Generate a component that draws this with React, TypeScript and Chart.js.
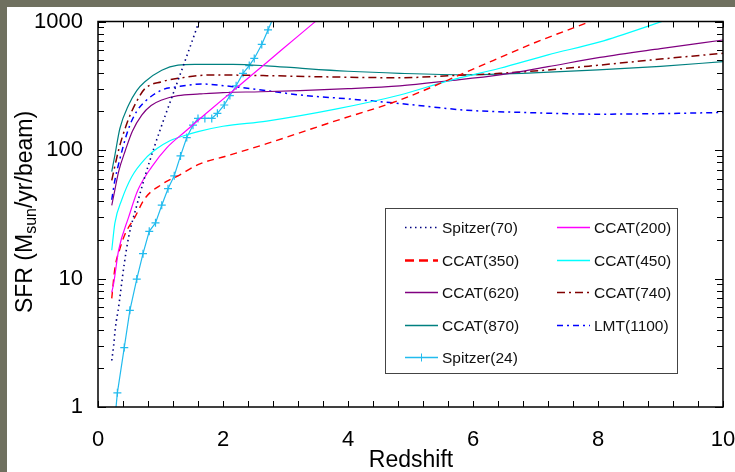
import { useEffect, useRef } from 'react';
import { Chart, registerables } from 'chart.js';

Chart.register(...registerables);

const FONT = '"Liberation Sans", Arial, Helvetica, sans-serif';

const seriesLabels = [
  'Spitzer(70)', 'CCAT(200)', 'CCAT(350)', 'CCAT(450)', 'CCAT(620)',
  'CCAT(740)', 'CCAT(870)', 'LMT(1100)', 'Spitzer(24)',
];

const xTickLabels = ['0', '2', '4', '6', '8', '10'];
const yTickLabels = ['1', '10', '100', '1000'];

const spitzer70Z = [0.22, 0.25, 0.28, 0.33, 0.37, 0.42, 0.49, 0.62, 0.75, 0.91, 1.1, 1.3, 1.5, 1.66];
const spitzer70SFR = [2.3, 3.0, 4.2, 6.0, 8.5, 13, 21, 37, 62, 109, 200, 370, 690, 1150];

const ccat200Z = [0.22, 0.25, 0.33, 0.49, 0.64, 0.86, 1.1, 1.4, 1.7, 2.2, 2.7, 3.2, 3.6];
const ccat200SFR = [7.8, 9.1, 16.6, 30, 49, 74, 104, 140, 187, 300, 480, 770, 1120];

const ccat350Z = [0.22, 0.27, 0.35, 0.43, 0.59, 0.75, 1.02, 1.28, 1.63, 2.03, 2.7, 3.76, 4.83, 5.9, 6.96, 7.9];
const ccat350SFR = [7.0, 12, 17, 22, 30, 42, 54, 63, 78, 89, 112, 166, 245, 405, 675, 1010];

const ccat450Z = [0.22, 0.27, 0.38, 0.54, 0.75, 0.95, 1.15, 1.35, 1.6, 2.0, 2.7, 3.8, 4.83, 5.6, 6.43, 7.2, 8.03, 9.05];
const ccat450SFR = [16.6, 27, 41, 62, 85, 103, 118, 128, 139, 153, 168, 208, 268, 345, 433, 550, 694, 1010];

const ccat620Z = [0.22, 0.27, 0.33, 0.44, 0.55, 0.7, 0.85, 1.02, 1.28, 1.63, 2.0, 2.6, 3.23, 4.0, 4.83, 5.6, 6.43, 7.2, 8.03, 9.0, 10];
const ccat620SFR = [37, 49, 68, 100, 140, 187, 222, 245, 265, 273, 280, 284, 290, 300, 316, 345, 384, 445, 525, 615, 718];

const ccat740Z = [0.22, 0.27, 0.33, 0.38, 0.49, 0.62, 0.75, 1.02, 1.28, 1.82, 2.7, 3.5, 4.83, 5.6, 6.43, 7.2, 8.03, 9.0, 10];
const ccat740SFR = [58, 75, 100, 122, 175, 240, 300, 340, 361, 384, 379, 372, 365, 378, 395, 420, 458, 510, 566];

const ccat870Z = [0.22, 0.27, 0.35, 0.49, 0.62, 0.75, 1.02, 1.28, 1.55, 2.16, 2.7, 3.23, 4.0, 4.83, 5.9, 6.96, 8.0, 9.0, 10];
const ccat870SFR = [68, 91, 147, 224, 290, 340, 418, 458, 464, 464, 452, 433, 410, 395, 385, 398, 420, 448, 487];

const lmt1100Z = [0.22, 0.27, 0.33, 0.49, 0.62, 0.75, 1.02, 1.28, 1.66, 2.16, 2.7, 3.23, 4.0, 4.83, 5.9, 6.96, 8.03, 9.0, 10];
const lmt1100SFR = [41, 58, 78, 147, 200, 238, 293, 311, 326, 311, 290, 268, 250, 230, 204, 195, 190, 192, 196];

const spitzer24Z = [0.28, 0.31, 0.42, 0.51, 0.62, 0.72, 0.82, 0.92, 1.02, 1.12, 1.22, 1.32, 1.42, 1.52, 1.6, 1.71, 1.82, 1.91, 2.02, 2.11, 2.21, 2.32, 2.42, 2.5, 2.62, 2.72, 2.85];
const spitzer24SFR = [0.9, 1.29, 2.9, 5.65, 9.9, 15.6, 23.3, 27.1, 37.2, 50, 63, 90, 125, 156, 176, 176, 176, 193, 224, 265, 316, 395, 454, 516, 663, 860, 1200];

const pts = (zs: number[], vs: number[]) => zs.map((z, i) => ({ x: z, y: vs[i] }));

const bgPlugin = {
  id: 'bg',
  beforeDraw(chart: any) {
    const { ctx, width, height } = chart;
    ctx.save();
    ctx.fillStyle = '#6f705f';
    ctx.fillRect(0, 0, width, height);
    ctx.fillStyle = '#ffffff';
    ctx.fillRect(7, 7, width - 7, height - 7);
    ctx.restore();
  },
};

const framePlugin = {
  id: 'frame',
  afterDatasetsDraw(chart: any) {
    const { ctx, chartArea: a, scales } = chart;
    const x = scales.x;
    const y = scales.y;
    ctx.save();
    ctx.strokeStyle = '#000';
    ctx.lineWidth = 1;
    ctx.beginPath();
    for (let k = 0; k <= 25; k++) {
      const px = Math.round(x.getPixelForValue(k * 0.4)) + 0.5;
      ctx.moveTo(px, a.bottom);
      ctx.lineTo(px, a.bottom - 6);
      ctx.moveTo(px, a.top);
      ctx.lineTo(px, a.top + 6);
    }
    for (let d = 1; d <= 1000; d *= 10) {
      for (let m = 1; m <= 9; m++) {
        const v = d * m;
        if (v > 1000) break;
        const py = Math.round(y.getPixelForValue(v)) + 0.5;
        const len = m === 1 ? 8 : 6;
        ctx.moveTo(a.left, py);
        ctx.lineTo(a.left + len, py);
        ctx.moveTo(a.right, py);
        ctx.lineTo(a.right - len, py);
      }
    }
    ctx.stroke();
    ctx.lineWidth = 1.5;
    ctx.strokeRect(a.left, a.top, a.right - a.left, a.bottom - a.top);
    ctx.restore();
  },
};

const legendPlugin = {
  id: 'boxLegend',
  afterDraw(chart: any) {
    const { ctx } = chart;
    const bx = 385, by = 208, bw = 292, bh = 165;
    ctx.save();
    ctx.fillStyle = '#fff';
    ctx.fillRect(bx, by, bw, bh);
    ctx.strokeStyle = '#444';
    ctx.lineWidth = 1;
    ctx.strokeRect(bx + 0.5, by + 0.5, bw, bh);
    chart.data.datasets.forEach((ds: any, i: number) => {
      const col = i % 2;
      const row = Math.floor(i / 2);
      const lx = bx + 20 + col * 152;
      const ly = Math.round(by + 19 + row * 32.5) + 0.5;
      ctx.strokeStyle = ds.borderColor;
      ctx.lineWidth = ds.legendWidth ?? 1.5;
      ctx.setLineDash(ds.legendDash ?? ds.borderDash ?? []);
      ctx.beginPath();
      ctx.moveTo(lx, ly);
      ctx.lineTo(lx + 33, ly);
      ctx.stroke();
      ctx.setLineDash([]);
      if (ds.pointRadius > 0) {
        ctx.lineWidth = 1;
        ctx.beginPath();
        ctx.moveTo(lx + 16.5, ly - 4);
        ctx.lineTo(lx + 16.5, ly + 4);
        ctx.stroke();
      }
      ctx.fillStyle = '#111';
      ctx.font = `15.5px ${FONT}`;
      ctx.textBaseline = 'middle';
      ctx.textAlign = 'left';
      ctx.fillText(ds.label, lx + 37, ly + 1);
    });
    ctx.restore();
  },
};

const titlesPlugin = {
  id: 'titles',
  afterDraw(chart: any) {
    const { ctx } = chart;
    ctx.save();
    ctx.fillStyle = '#000';
    ctx.font = `23px ${FONT}`;
    ctx.textAlign = 'center';
    ctx.textBaseline = 'middle';
    ctx.fillText('Redshift', 411, 461);

    ctx.translate(32, 212);
    ctx.rotate(-Math.PI / 2);
    ctx.textAlign = 'left';
    ctx.textBaseline = 'alphabetic';
    const p1 = 'SFR (M';
    const p2 = 'sun';
    const p3 = '/yr/beam)';
    ctx.font = `23px ${FONT}`;
    const w1 = ctx.measureText(p1).width;
    const w3 = ctx.measureText(p3).width;
    ctx.font = `16px ${FONT}`;
    const w2 = ctx.measureText(p2).width;
    const sx = -(w1 + w2 + w3) / 2;
    ctx.font = `23px ${FONT}`;
    ctx.fillText(p1, sx, 0);
    ctx.font = `16px ${FONT}`;
    ctx.fillText(p2, sx + w1, 4);
    ctx.font = `23px ${FONT}`;
    ctx.fillText(p3, sx + w1 + w2, 0);
    ctx.restore();
  },
};

export default function App() {
  const ref = useRef<HTMLCanvasElement | null>(null);

  useEffect(() => {
    if (!ref.current) return;
    const smooth = { cubicInterpolationMode: 'monotone', pointRadius: 0, fill: false };
    const datasets: any[] = [
      { label: seriesLabels[0], data: pts(spitzer70Z, spitzer70SFR), borderColor: '#000080', borderWidth: 1.6, borderDash: [1.5, 3.5], ...smooth },
      { label: seriesLabels[1], data: pts(ccat200Z, ccat200SFR), borderColor: '#ff00ff', borderWidth: 1.2, ...smooth },
      { label: seriesLabels[2], data: pts(ccat350Z, ccat350SFR), borderColor: '#ff0000', borderWidth: 1.4, borderDash: [7, 5], legendWidth: 2.6, legendDash: [9, 5], ...smooth },
      { label: seriesLabels[3], data: pts(ccat450Z, ccat450SFR), borderColor: '#00ffff', borderWidth: 1.2, ...smooth },
      { label: seriesLabels[4], data: pts(ccat620Z, ccat620SFR), borderColor: '#800080', borderWidth: 1.2, ...smooth },
      { label: seriesLabels[5], data: pts(ccat740Z, ccat740SFR), borderColor: '#800000', borderWidth: 1.5, borderDash: [8, 4, 2, 4], ...smooth },
      { label: seriesLabels[6], data: pts(ccat870Z, ccat870SFR), borderColor: '#008080', borderWidth: 1.2, ...smooth },
      { label: seriesLabels[7], data: pts(lmt1100Z, lmt1100SFR), borderColor: '#0000ff', borderWidth: 1.5, borderDash: [6, 4, 2, 4], ...smooth },
      {
        label: seriesLabels[8], data: pts(spitzer24Z, spitzer24SFR), borderColor: '#22bbee', borderWidth: 1.2,
        tension: 0, pointRadius: 4, pointStyle: 'cross', pointBorderColor: '#22bbee', pointBackgroundColor: '#22bbee',
        pointBorderWidth: 1.2, fill: false,
      },
    ];

    const tickFont = { family: FONT, size: 22 };
    const chart = new Chart(ref.current, {
      type: 'line',
      data: { datasets },
      options: {
        animation: false,
        responsive: false,
        maintainAspectRatio: false,
        events: [],
        layout: { padding: { left: 0, right: 12, top: 21.5, bottom: 0 } },
        scales: {
          x: {
            type: 'linear',
            min: 0,
            max: 10,
            grid: { display: false, drawTicks: false },
            border: { display: false },
            ticks: {
              stepSize: 2,
              autoSkip: false,
              maxRotation: 0,
              padding: 20,
              color: '#000',
              font: tickFont,
              callback: (v: any) => {
                const s = String(v);
                return xTickLabels.includes(s) ? s : '';
              },
            },
            afterFit: (s: any) => { s.height = 65; s.paddingRight = 0; s.paddingLeft = 0; },
          },
          y: {
            type: 'logarithmic',
            min: 1,
            max: 1000,
            grid: { display: false, drawTicks: false },
            border: { display: false },
            ticks: {
              autoSkip: false,
              padding: 15,
              color: '#000',
              font: tickFont,
              callback: (v: any) => {
                const s = String(Math.round(Number(v)));
                const lg = Math.log10(Number(v));
                return Math.abs(lg - Math.round(lg)) < 1e-9 && yTickLabels.includes(s) ? s : '';
              },
            },
            afterFit: (s: any) => { s.width = 98; s.paddingTop = 0; s.paddingBottom = 0; },
          },
        },
        plugins: {
          legend: { display: false },
          tooltip: { enabled: false },
        },
      } as any,
      plugins: [bgPlugin, framePlugin, legendPlugin, titlesPlugin],
    });
    return () => chart.destroy();
  }, []);

  return (
    <div style={{ position: 'absolute', left: 0, top: 0, width: 735, height: 472 }}>
      <canvas ref={ref} width={735} height={472} style={{ display: 'block', width: 735, height: 472 }} />
    </div>
  );
}
